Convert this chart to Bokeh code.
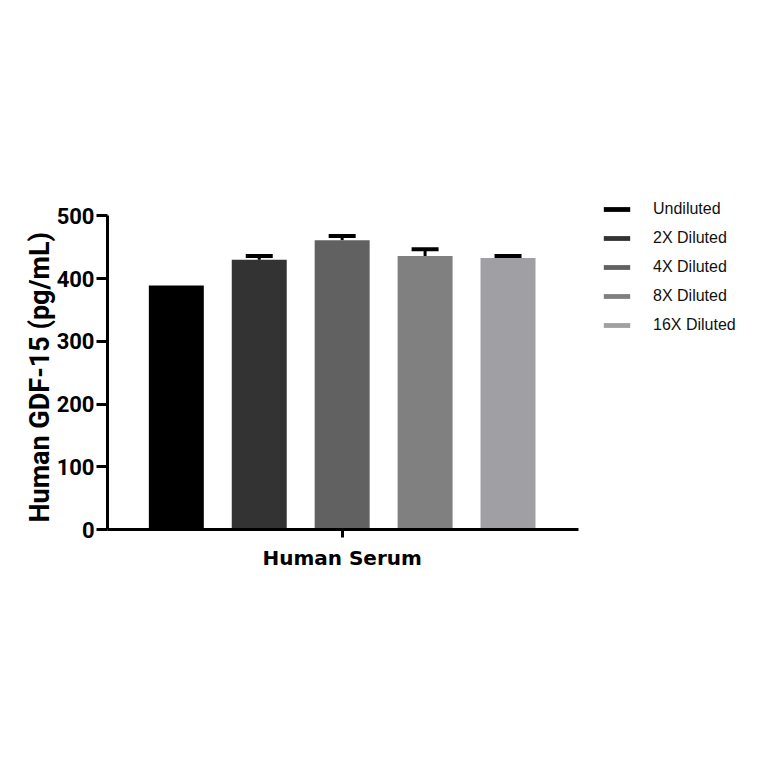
from bokeh.plotting import figure
from bokeh.models import (ColumnDataSource, Range1d, FixedTicker, Legend, LegendItem,
                          Whisker, TeeHead, Title)
from bokeh.embed import file_html
from bokeh.resources import INLINE

# ---- data ----
groups = ["Undiluted", "2X Diluted", "4X Diluted", "8X Diluted", "16X Diluted"]
values = [389, 430, 461, 436, 433]
errors = [0, 6, 7, 11, 3]
colors = ["#000000", "#333333", "#616161", "#808080", "#A0A0A4"]
y_ticks = [0, 100, 200, 300, 400, 500]
x_group_label = "Human Serum"
y_title = "Human GDF-15 (pg/mL)"

xs = [i + 1 for i in range(len(groups))]
upper = [v + e for v, e in zip(values, errors)]

p = figure(frame_width=471, frame_height=355, output_backend="svg", toolbar_location=None,
           x_range=Range1d(0.17, 5.85), y_range=Range1d(0, 566),
           min_border_left=107, min_border_right=0, min_border_top=174, min_border_bottom=180)
p.outline_line_color = None
p.grid.visible = False
p.background_fill_color = "white"
p.border_fill_color = "white"

renderers = []
for i in range(len(groups)):
    r = p.vbar(x=[xs[i]], top=[values[i]], width=0.663, bottom=0,
               fill_color=colors[i], line_color=None)
    renderers.append(r)

# error bars (upper only)
wsrc = ColumnDataSource(dict(x=xs[1:], base_lo=values[1:], up=upper[1:]))
wh = Whisker(base="x", lower="base_lo", upper="up", source=wsrc,
             line_color="black", line_width=3,
             upper_head=TeeHead(size=27, line_width=4, line_color="black"),
             lower_head=None)
p.add_layout(wh)

# axes
xa = p.xaxis[0]
xa.ticker = FixedTicker(ticks=[3])
xa.major_label_overrides = {3: x_group_label}
xa.major_label_text_font = "DejaVu Sans"
xa.major_label_text_font_style = "bold"
xa.major_label_text_font_size = "20px"
xa.major_label_text_color = "black"
xa.major_label_standoff = 8
xa.axis_line_width = 3
xa.axis_line_color = "black"
xa.major_tick_line_width = 3
xa.major_tick_out = 8
xa.major_tick_in = 0
xa.minor_tick_line_color = None

ya = p.yaxis[0]
ya.ticker = FixedTicker(ticks=y_ticks)
ya.bounds = (y_ticks[0], y_ticks[-1])
ya.major_label_text_font = "Roboto"
ya.major_label_text_font_style = "bold"
ya.major_label_text_font_size = "22px"
ya.major_label_text_color = "black"
ya.major_label_standoff = 2
ya.axis_line_width = 3
ya.axis_line_color = "black"
ya.major_tick_line_width = 3
ya.major_tick_out = 11
ya.major_tick_in = 0
ya.minor_tick_line_color = None

ytitle = Title(text=y_title, align="left", offset=7, standoff=-5,
               text_font="Roboto", text_font_style="bold", text_font_size="27px",
               text_color="black")
p.add_layout(ytitle, "left")

legend = Legend(items=[LegendItem(label=groups[i], renderers=[renderers[i]]) for i in range(len(groups))],
                location="top_left", orientation="vertical",
                glyph_width=33, glyph_height=6, label_height=25, spacing=4,
                label_standoff=20, padding=0, margin=22,
                border_line_color=None, background_fill_alpha=0,
                label_text_font="Liberation Sans", label_text_font_size="16px",
                label_text_color="#111111")
p.add_layout(legend, "right")

open("out.html", "w").write(file_html(p, INLINE))
